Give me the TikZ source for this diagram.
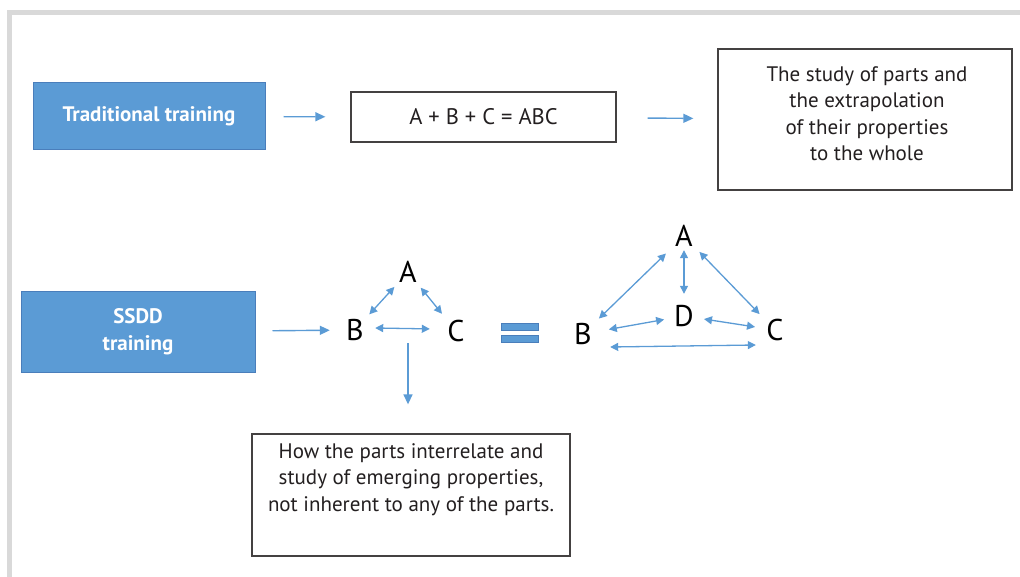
\documentclass[tikz,border=0pt]{standalone}
\usepackage{fontspec}
\setmainfont{PT Sans}
\usetikzlibrary{arrows.meta,calc}

\definecolor{boxblue}{HTML}{5B9BD5}
\definecolor{boxedge}{HTML}{4A7EBB}
\definecolor{linkblue}{HTML}{5B9BD5}
\definecolor{inkgrey}{HTML}{231F20}
\definecolor{framegrey}{HTML}{D9D9D9}

\tikzset{
  bluebox/.style={draw=boxedge, fill=boxblue, line width=1pt, text=white,
    font=\fontsize{21}{27}\selectfont\bfseries, align=center, inner sep=0pt},
  plainbox/.style={draw=inkgrey!85, line width=1.3pt, text=inkgrey,
    font=\fontsize{22.5}{26.5}\selectfont, align=center, inner sep=0pt},
  bodytext/.style={text=inkgrey, font=\fontsize{21}{26.5}\selectfont,
    align=center, inner sep=0pt},
  letter/.style={circle, minimum size=40pt, inner sep=0pt, text=black,
    font=\fontsize{30}{30}\selectfont},
  eqbar/.style={draw=boxedge, fill=boxblue, line width=0.8pt,
    minimum width=37pt, minimum height=7pt, inner sep=0pt},
  link/.style={draw=linkblue, line width=1.4pt,
    -{Triangle[length=10pt,width=9pt]}},
  twolink/.style={draw=linkblue, line width=1.3pt,
    {Triangle[length=8pt,width=8pt]}-{Triangle[length=8pt,width=8pt]}},
}

\begin{document}
\begin{tikzpicture}[x=1pt, y=-1pt]
    \useasboundingbox (0,0) rectangle (1020,577);
    \draw [framegrey, line width=5pt] (9.5,577) -- (9.5,12.5) -- (1020,12.5);

    \node [bluebox, minimum width=232pt, minimum height=67pt] (TT) at (149,116.5) {Traditional training};
    \node [plainbox, minimum width=265pt, minimum height=50pt] (ABC) at (483.5,117) {A + B + C = ABC};
    \node [plainbox, minimum width=294pt, minimum height=141pt] (SW) at (865,119.5) {};
    \node [bodytext, anchor=north] (SWtxt) at ($(SW.north)+(2,18)$) {The study of parts and\\
      the extrapolation\\of their properties\\to the whole};
    \node [bluebox, minimum width=234pt, minimum height=80pt] (SD) at (138,332) {SSDD\\training};

    \node [letter] (A1) at (408,272) {A};
    \node [letter] (B1) at (355,330) {B};
    \node [letter] (C1) at (456,331) {C};
    \coordinate (BCdown) at (408,343);

    \node [eqbar] (EQ1) at (519.5,326.5) {};
    \node [eqbar] (EQ2) at (519.5,338.5) {};

    \node [letter] (A2) at (684,236) {A};
    \node [letter] (B2) at (583,334) {B};
    \node [letter] (C2) at (775,330) {C};
    \node [letter] (D2) at (684,316) {D};

    \node [plainbox, minimum width=318pt, minimum height=122pt] (HI) at (411,495) {};
    \node [bodytext, anchor=north] (HItxt) at ($(HI.north)+(0,10)$) {How the parts interrelate and\\
      study of emerging properties,\\not inherent to any of the parts.};

    \draw [link, shorten <=18pt, shorten >=25pt] (TT) to (ABC);
    \draw [link, shorten <=31pt, shorten >=24pt] (ABC) to (SW);
    \draw [link, shorten <=17pt, shorten >=5pt] (SD) to (B1);
    \draw [link, shorten >=29pt] (BCdown) to (BCdown |- HI.north);

    \draw [twolink, shorten <=1pt] (B1) to (A1);
    \draw [twolink, shorten >=2pt] (A1) to (C1);
    \draw [twolink, shorten >=6pt] ([yshift=2pt]B1.east) to ([yshift=2pt]C1.west);

    \draw [twolink, shorten <=2pt, shorten >=5pt] (B2) to (A2);
    \draw [twolink, shorten <=-6pt, shorten >=2pt] (A2) to (D2);
    \draw [twolink, shorten <=2pt, shorten >=2pt] (A2) to (C2);
    \draw [twolink, shorten <=6pt] (B2) to (D2);
    \draw [twolink] (D2) to (C2);
    \draw [twolink] ([xshift=7pt,yshift=-13pt]B2.east) to ([xshift=1pt,yshift=-15pt]C2.west);
\end{tikzpicture}
\end{document}
